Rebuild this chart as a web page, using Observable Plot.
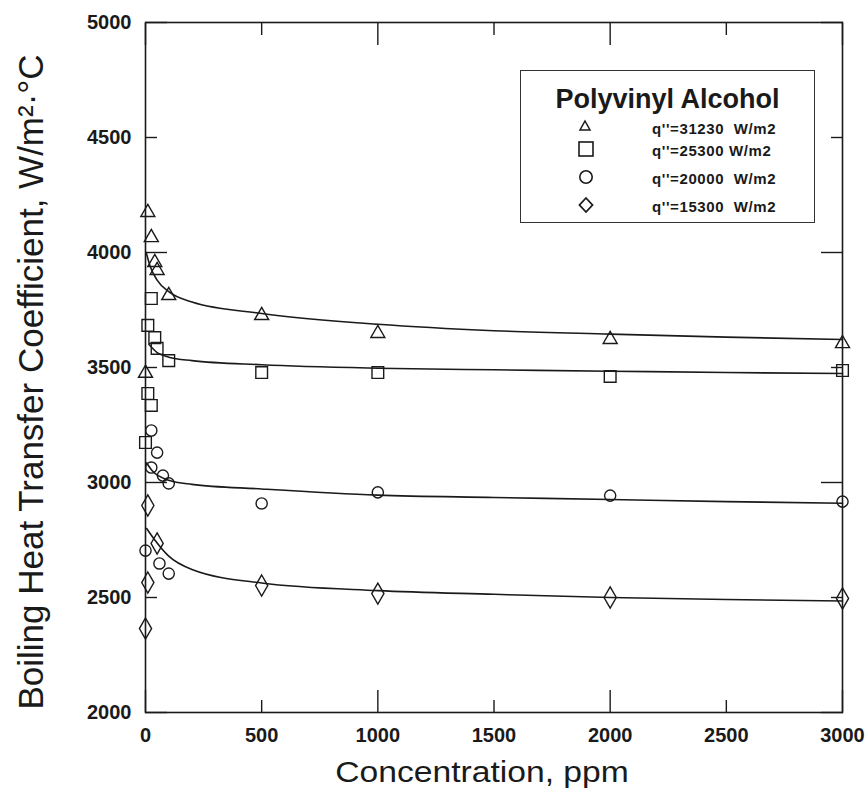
<!DOCTYPE html>
<html>
<head>
<meta charset="utf-8">
<script src="https://cdn.jsdelivr.net/npm/d3@7"></script>
<script src="https://cdn.jsdelivr.net/npm/@observablehq/plot@0.6"></script>
<style>
  html, body { margin: 0; padding: 0; background: #fff; }
  #wrap { position: relative; width: 868px; height: 789px; overflow: hidden; font-family: "Liberation Sans", Arial, sans-serif; color: #1a1a1a; }
  #wrap svg text { font-weight: bold; }
  .lab { position: absolute; white-space: nowrap; line-height: 1; transform: translate(-50%, -50%); }
  #legend { position: absolute; left: 520px; top: 70px; width: 295px; height: 153px; box-sizing: border-box; border: 1.6px solid #333; }
  #legend .title { position: absolute; left: 0; width: 100%; top: 28px; text-align: center; font-weight: bold; font-size: 27px; transform: translateY(-50%); line-height: 1; }
  #legend .row { position: absolute; left: 0; width: 100%; height: 20px; transform: translateY(-50%); }
  #legend .row svg { position: absolute; left: 56px; top: 0; }
  #legend .row span { position: absolute; left: 131px; top: 2px; font-size: 15px; font-weight: bold; white-space: pre; letter-spacing: 0.6px; }
</style>
</head>
<body>
<div id="wrap"></div>
<script>
// ---------- data ----------
const seriesNames = ["q''=31230  W/m2", "q''=25300 W/m2", "q''=20000  W/m2", "q''=15300  W/m2"];
const seriesSymbols = ["triangle", "square", "circle", "diamond"];

// measured points (concentration ppm, h W/m2.C)
const triX = [0, 10, 25, 40, 50, 100, 500, 1000, 2000, 3000];
const triY = [3475, 4174, 4065, 3957, 3922, 3813, 3726, 3648, 3622, 3604];
const sqX = [0, 10, 10, 25, 25, 40, 50, 100, 500, 1000, 2000, 3000];
const sqY = [3174, 3387, 3683, 3800, 3335, 3630, 3583, 3530, 3478, 3478, 3461, 3487];
const circX = [0, 25, 25, 50, 75, 100, 60, 100, 500, 1000, 2000, 3000];
const circY = [2704, 3226, 3065, 3130, 3030, 2996, 2648, 2604, 2909, 2957, 2943, 2917];
const diaX = [0, 10, 10, 50, 500, 1000, 2000, 3000];
const diaY = [2365, 2900, 2565, 2735, 2552, 2517, 2500, 2496];

// fitted curves
const triFitX = [3, 20, 50, 100, 200, 500, 1000, 1500, 2000, 2500, 3000];
const triFitY = [4000, 3940, 3880, 3830, 3785, 3735, 3688, 3660, 3645, 3632, 3622];
const sqFitX = [15, 50, 100, 200, 500, 1000, 1500, 2000, 2500, 3000];
const sqFitY = [3600, 3565, 3545, 3530, 3512, 3497, 3490, 3484, 3478, 3474];
const circFitX = [5, 30, 100, 200, 500, 1000, 1500, 2000, 2500, 3000];
const circFitY = [3085, 3050, 3010, 2992, 2972, 2945, 2935, 2926, 2917, 2910];
const diaFitX = [5, 40, 100, 200, 500, 1000, 1500, 2000, 2500, 3000];
const diaFitY = [2800, 2750, 2680, 2622, 2563, 2530, 2514, 2500, 2491, 2485];

const xTicks = [0, 500, 1000, 1500, 2000, 2500, 3000];
const yTicks = [2000, 2500, 3000, 3500, 4000, 4500, 5000];
const xMajor = [0, 1000, 2000, 3000];
const xMinor = [500, 1500, 2500];
const yMajor = [2000, 3000, 4000, 5000];
const yMinor = [2500, 3500, 4500];

const xLabel = "Concentration, ppm";
const yLabel = "Boiling Heat Transfer Coefficient, W/m²·°C";
const legendTitle = "Polyvinyl Alcohol";

// ---------- build ----------
const W = 868, H = 789, mL = 145, mR = 26, mT = 22, mB = 77;
const majorLen = 22, minorLen = 12;
const ink = "#1a1a1a";

const tbl = (xs, ys) => xs.map((x, i) => ({x, y: ys[i]}));
const pts = [tbl(triX, triY), tbl(sqX, sqY), tbl(circX, circY), tbl(diaX, diaY)];
const fits = [tbl(triFitX, triFitY), tbl(sqFitX, sqFitY), tbl(circFitX, circFitY), tbl(diaFitX, diaFitY)];
const radii = [5.2, 6.6, 5.6, 6.4];

// inward ticks: axis marks with negative tick size, no labels
const inTicks = (fn, data, anchor, len) =>
  fn(data, {anchor, tickSize: -len, tickFormat: () => "", stroke: ink, strokeWidth: 1.4, label: null});

const marks = [
  Plot.frame({stroke: ink, strokeWidth: 1.6}),
  Plot.axisX(xTicks, {anchor: "bottom", tickSize: 0, tickPadding: 15, fontSize: 20, fontWeight: "bold", label: null, tickFormat: d => String(d)}),
  Plot.axisY(yTicks, {anchor: "left", tickSize: 0, tickPadding: 14, fontSize: 20, fontWeight: "bold", label: null, tickFormat: d => String(d)}),
  inTicks(Plot.axisY, yMajor, "left", majorLen),
  inTicks(Plot.axisY, yMinor, "left", minorLen),
  inTicks(Plot.axisY, yMajor, "right", majorLen),
  inTicks(Plot.axisY, yMinor, "right", minorLen),
  inTicks(Plot.axisX, xMajor, "bottom", majorLen),
  inTicks(Plot.axisX, xMinor, "bottom", minorLen),
  inTicks(Plot.axisX, xMajor, "top", majorLen),
  inTicks(Plot.axisX, xMinor, "top", minorLen),
];
fits.forEach(f => marks.push(Plot.line(f, {x: "x", y: "y", curve: "monotone-x", stroke: ink, strokeWidth: 1.6})));
pts.forEach((p, i) => marks.push(Plot.dot(p, {x: "x", y: "y", symbol: seriesSymbols[i], r: radii[i], stroke: ink, strokeWidth: 1.4, fill: "none"})));

const chart = Plot.plot({
  width: W, height: H,
  marginLeft: mL, marginRight: mR, marginTop: mT, marginBottom: mB,
  x: {domain: [0, 3000]},
  y: {domain: [2000, 5000]},
  style: {fontFamily: "'Liberation Sans', Arial, sans-serif", background: "white", color: ink},
  marks
});
const wrap = document.getElementById("wrap");
wrap.appendChild(chart);

// axis titles
const xl = document.createElement("div");
xl.className = "lab"; xl.textContent = xLabel;
Object.assign(xl.style, {left: "482px", top: "772px", fontSize: "29px", transform: "translate(-50%, -50%) scaleX(1.16)"});
wrap.appendChild(xl);
const yl = document.createElement("div");
yl.className = "lab"; yl.textContent = yLabel;
Object.assign(yl.style, {left: "30px", top: "382px", fontSize: "35px", transform: "translate(-50%, -50%) rotate(-90deg)"});
wrap.appendChild(yl);

// legend
const lg = document.createElement("div");
lg.id = "legend";
const t = document.createElement("div"); t.className = "title"; t.textContent = legendTitle; lg.appendChild(t);
const rowY = [57, 79, 107, 135];
const symPaths = {
  triangle: '<path d="M8,3 L13,12 L3,12 Z" fill="none" stroke="#1a1a1a" stroke-width="1.5"/>',
  square: '<rect x="2" y="2" width="14" height="14" fill="none" stroke="#1a1a1a" stroke-width="1.6"/>',
  circle: '<circle cx="9" cy="9" r="6.2" fill="none" stroke="#1a1a1a" stroke-width="1.6"/>',
  diamond: '<path d="M9,2 L15.5,9 L9,16 L2.5,9 Z" fill="none" stroke="#1a1a1a" stroke-width="1.8"/>'
};
seriesNames.forEach((n, i) => {
  const r = document.createElement("div"); r.className = "row"; r.style.top = rowY[i] + "px";
  r.innerHTML = '<svg width="18" height="18" viewBox="0 0 18 18">' + symPaths[seriesSymbols[i]] + '</svg><span></span>';
  r.querySelector("span").textContent = n;
  lg.appendChild(r);
});
wrap.appendChild(lg);
</script>
</body>
</html>
